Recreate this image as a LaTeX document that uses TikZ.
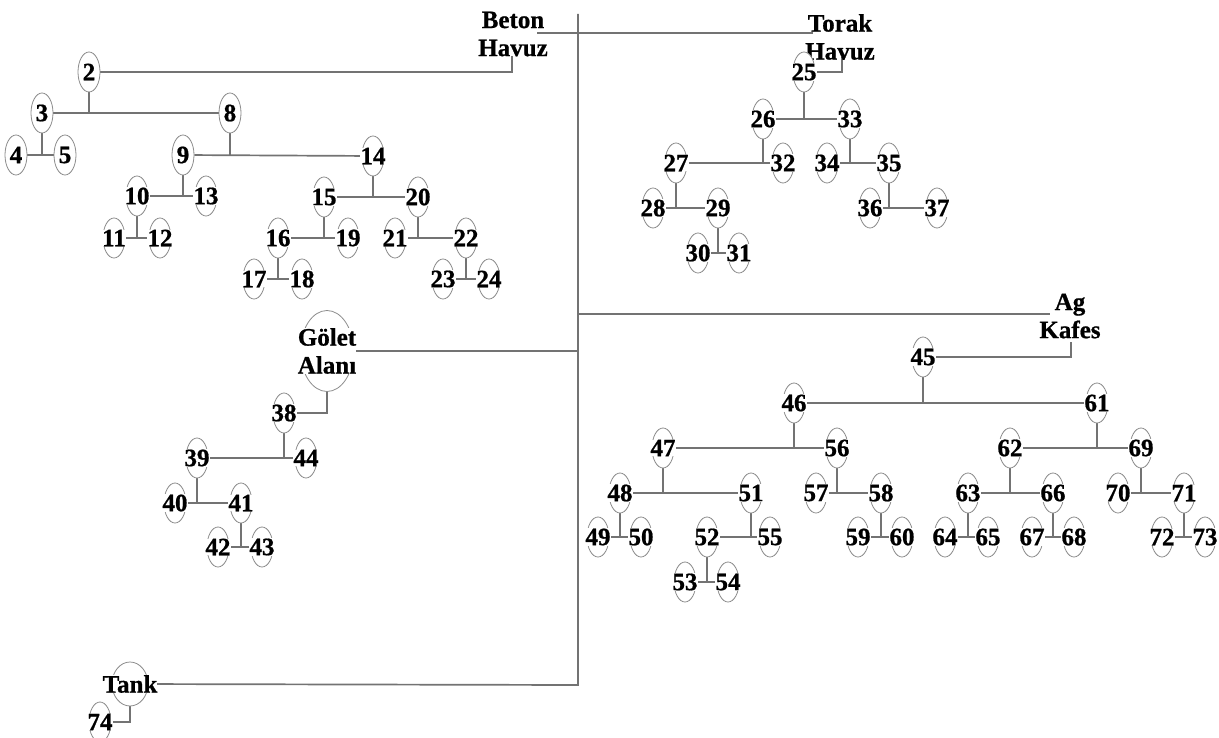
\documentclass[tikz,border=0pt]{standalone}
\usepackage{fontspec}
\setmainfont{Liberation Serif}
\newfontfamily\heavy{Liberation Serif}[FakeBold=0.8]
\usetikzlibrary{shapes.geometric,backgrounds}
\tikzset{
  num/.style={ellipse, draw=black!45, line width=0.8pt, fill=white,
    minimum width=22pt, minimum height=40pt, inner sep=0pt,
    label={[fill=white,inner sep=0.2pt,font=\heavy\bfseries\fontsize{25}{25}\selectfont]center:#1}},
  con/.style={draw=black!55, line width=1.7pt},
  word/.style={font=\heavy\bfseries\fontsize{25}{28}\selectfont, align=center, inner sep=0pt},
  bigell/.style={ellipse, draw=black!45, line width=0.8pt, fill=white, inner sep=0pt},
}
\begin{document}
\begin{tikzpicture}[x=1pt,y=-1pt]
\useasboundingbox (0,0) rectangle (1219,738);
% labels
\node[word] (beton) at (513,34) {Beton\\Havuz};
\node[word] (torak) at (840,37) {Torak\\Havuz};
\node[word] (agk) at (1070,316) {Ag\\Kafes};
\node[bigell, minimum width=53pt, minimum height=81pt,
  label={[word,fill=white]center:Gölet\\Alanı}] (golet) at (327,351) {};
\node[bigell, minimum width=36pt, minimum height=44pt,
  label={[word,fill=white]center:Tank}] (tank) at (130,684) {};
% numbered nodes
\foreach \n/\x/\y in {
  2/89/72, 3/42/113, 8/230/113, 4/16/155, 5/65/155, 9/183/155, 14/373/156,
  10/137/196, 13/206/196, 11/114/238, 12/160/238, 15/324/197, 20/418/197,
  16/278/238, 19/348/238, 17/254/279, 18/302/279, 21/395/238, 22/466/238,
  23/443/279, 24/489/279,
  25/804/72, 26/763/119, 33/850/119, 27/676/163, 32/783/163, 28/653/208,
  29/718/208, 30/698/253, 31/739/253, 34/827/163, 35/889/163, 36/870/208,
  37/937/208,
  38/284/413, 39/197/458, 44/306/458, 40/175/503, 41/241/503, 42/218/547,
  43/262/547,
  45/923/357, 46/794/403, 61/1097/403, 47/663/448, 56/837/448, 48/620/493,
  51/751/493, 49/598/537, 50/641/537, 52/707/537, 55/770/537, 53/685/582,
  54/728/582, 57/816/493, 58/881/493, 59/858/537, 60/902/537,
  62/1010/448, 69/1141/448, 63/968/493, 66/1053/493, 64/945/537, 65/988/537,
  67/1032/537, 68/1074/537, 70/1118/493, 71/1184/493, 72/1162/537, 73/1205/537,
  74/100/722}
  {\node[num=\n] (n\n) at (\x,\y) {};}
% junction coordinates
\coordinate (tt) at (578,14);
\coordinate (tb) at (578,685);
\coordinate (bj) at (537,33);
\coordinate (tj) at (813,33);
\coordinate (bh) at (512,56);
\coordinate (th) at (842,57);
\coordinate (aj) at (1050,314);
\coordinate (ak) at (1071,342);
\begin{pgfonlayer}{background}
\draw[con] (tt) -- (tb) -- (tank);
\draw[con] (bj) -- (tj);
\draw[con] (bh) -- (bh |- n2) -- (n2);
\draw[con] (th) -- (th |- n25) -- (n25);
\draw[con] (aj -| tt) -- (aj);
\draw[con] (ak) -- (ak |- n45) -- (n45);
\draw[con] (golet) -- (golet -| tt);
\draw[con] (golet) -- (golet |- n38) -- (n38);
\draw[con] (tank) -- (tank |- n74) -- (n74);
\foreach \p/\a/\b in {2/3/8, 3/4/5, 8/9/14, 9/10/13, 10/11/12, 14/15/20,
  15/16/19, 16/17/18, 20/21/22, 22/23/24, 25/26/33, 26/27/32, 27/28/29,
  29/30/31, 33/34/35, 35/36/37, 38/39/44, 39/40/41, 41/42/43, 45/46/61,
  46/47/56, 47/48/51, 48/49/50, 51/52/55, 52/53/54, 56/57/58, 58/59/60,
  61/62/69, 62/63/66, 63/64/65, 66/67/68, 69/70/71, 71/72/73}
  {\draw[con] (n\p) -- (n\p |- n\a);
   \draw[con] (n\a) -- (n\b);}
\end{pgfonlayer}
\end{tikzpicture}
\end{document}
